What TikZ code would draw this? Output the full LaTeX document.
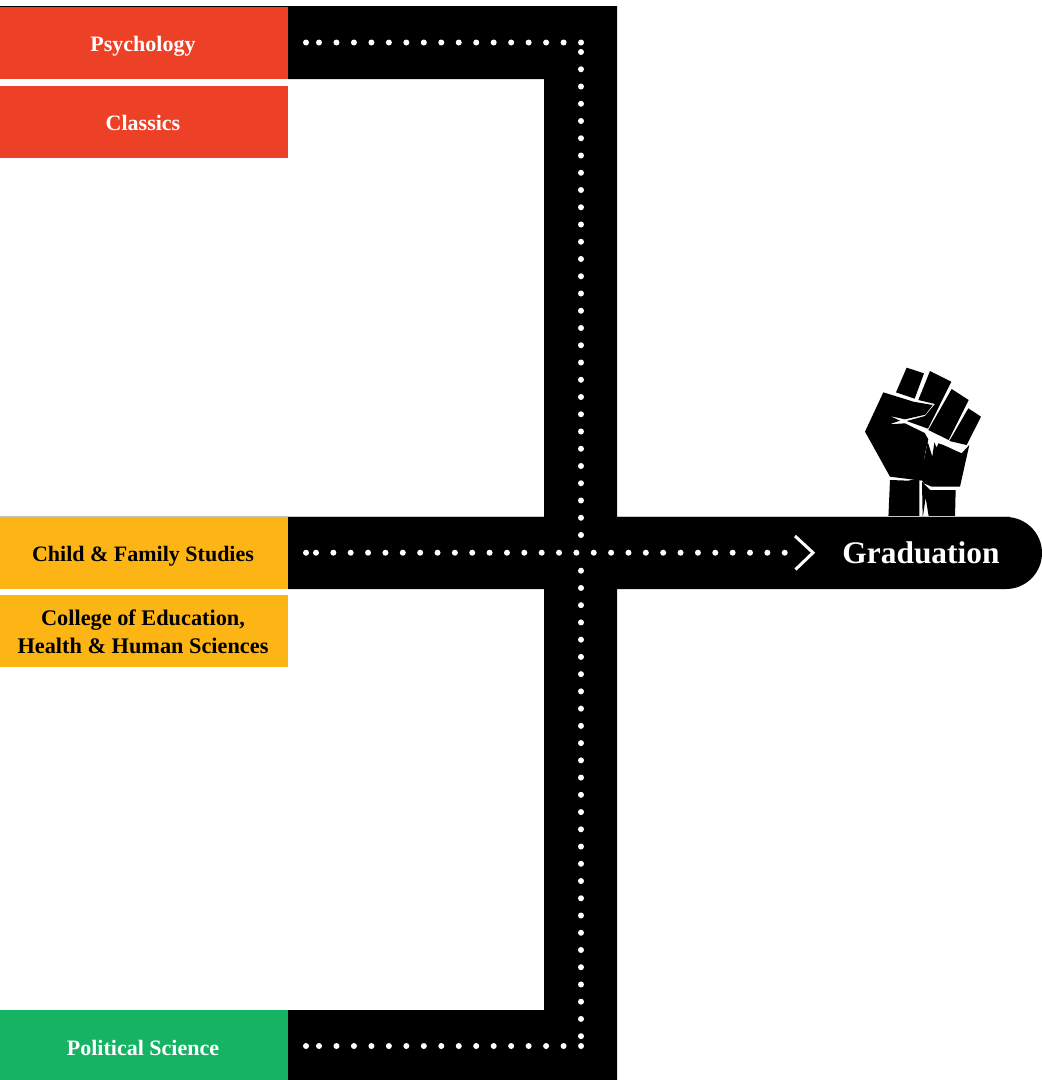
\documentclass[tikz,border=0pt]{standalone}
\usepackage{fontspec}
\setmainfont{Liberation Serif}
\definecolor{redbox}{HTML}{EC4027}
\definecolor{goldbox}{HTML}{FDB515}
\definecolor{greenbox}{HTML}{16B364}
\definecolor{hair}{HTML}{C8C8C8}
\tikzset{
  x=1pt,y=-1pt,
  lab/.style={anchor=north west,inner sep=0pt,outer sep=0pt,minimum width=290pt,minimum height=72pt,align=center,
    font=\fontsize{22}{28}\selectfont\bfseries,text height=16pt,text depth=0pt},
  redlab/.style={lab,fill=redbox,text=white},
  goldlab/.style={lab,fill=goldbox,text=black},
  greenlab/.style={lab,fill=greenbox,text=white},
  dotmark/.style={fill=white,draw=none},
  chev/.style={draw=white,line width=3pt,line cap=butt,line join=miter},
  road/.style={fill=black,draw=none},
  gradlab/.style={inner sep=0pt,text=white,font=\fontsize{31.4}{36}\selectfont\bfseries,anchor=base}
}
\begin{document}
\begin{tikzpicture}
\useasboundingbox (0,0) rectangle (1042,1080);
\fill[white] (0,0) rectangle (1042,1080);
% fist
\begin{scope}[shift={(850,360)},x=0.3333pt,y=-0.3333pt]
\fill[black] (170,23)--(222,40)--(194,116)--(138,97)--cycle;
\fill[black] (240,33)--(304,65)--(234,206)--(170,183)--(225,168)--(255,132)--(205,120)--cycle;
\fill[black] (305,87)--(356,120)--(296,240)--(235,210)--cycle;
\fill[black] (355,145)--(393,170)--(350,255)--(298,243)--cycle;
\fill[black] (100,97)--(190,125)--(248,135)--(226,164)--(165,178)--(120,168)--(150,182)--(118,193)--(165,190)--(224,219)--(235,238)--(225,280)--(215,362)--(120,350)--(45,215)--cycle;
\end{scope}
\begin{scope}[shift={(880,425)},x=0.3333pt,y=-0.3333pt]
\fill[black] (143,50)--(157,95)--(163,52)--(170,68)--(175,55)--(190,60)--(245,85)--(268,60)--(240,185)--(155,185)--(132,175)--(122,160)--(127,130)--cycle;
\fill[black] (30,165)--(85,167)--(118,160)--(118,280)--(25,280)--cycle;
\fill[black] (126,170)--(150,195)--(227,195)--(225,280)--(147,280)--(137,218)--(128,280)--cycle;
\end{scope}
% hairlines
\fill[hair] (0,516) rectangle (1010,517);
% road
\fill[road] (0,6) rectangle (288,7);
\fill[road] (288,6) -- (617,6) -- (617,517) -- (1006,517)
  arc[start angle=90,end angle=-90,x radius=36pt,y radius=36pt] -- (617,589) -- (617,1080) -- (288,1080) -- (288,1010)
  -- (544,1010) -- (544,589) -- (288,589) -- (288,517) -- (544,517) -- (544,79) -- (288,79) -- cycle;
% boxes
\node[redlab] (psy) at (-2,7) {Psychology};
\node[redlab] (cla) at (-2,86) {Classics};
\node[goldlab] (cfs) at (-2,517) {Child \& Family Studies};
\node[goldlab,text height=,text depth=,font=\fontsize{22.3}{28}\selectfont\bfseries] (cehhs) at (-2,595) {\rule{0pt}{18pt}College of Education,\\Health \& Human Sciences};
\node[greenlab,minimum height=70pt,text height=20pt] (pol) at (-2,1010) {Political Science};
% dots
\foreach \px in {306,319} \fill[dotmark] (\px,42.5) circle[radius=3pt];
\foreach \k in {1,...,15} \fill[dotmark] ({319+17.47*\k},42.5) circle[radius=3pt];
\foreach \px in {306,319} \fill[dotmark] (\px,1046) circle[radius=3pt];
\foreach \k in {1,...,15} \fill[dotmark] ({319+17.47*\k},1046) circle[radius=3pt];
\fill[dotmark] (306,552.7) circle[radius=3pt];
\foreach \k in {0,...,27} \fill[dotmark] ({316+17.36*\k},552.7) circle[radius=3pt];
\foreach \k in {0,...,28} \fill[dotmark] (581,{52+17.25*\k}) circle[radius=3pt];
\foreach \k in {0,...,27} \fill[dotmark] (581,{570.7+17.24*\k}) circle[radius=3pt];
% arrow
\draw[chev] (795,536) -- (813,552.7) -- (795.5,569.5);
\node[gradlab] (grad) at (921,563) {Graduation};
\end{tikzpicture}
\end{document}
